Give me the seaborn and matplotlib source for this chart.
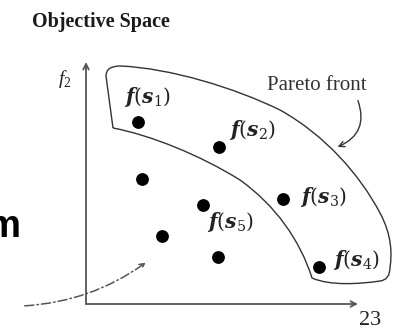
import matplotlib
matplotlib.use('Agg')
import matplotlib.pyplot as plt
import seaborn as sns
from matplotlib.patches import FancyArrowPatch, PathPatch
from matplotlib.path import Path

# Objective values of the candidate solutions (f1, f2), origin at the axis corner
f1 = [52, 133, 197, 233, 117, 56, 76, 132]
f2 = [182, 157, 105, 37, 99, 125, 68, 47]
names = ['1', '2', '3', '4', '5', None, None, None]
# label offsets from each dot (pixels, x right / y down)
label_dx = [9, 33, 40, 37, 27]
label_dy = [-25, -17, -2, -7, 17]

sns.set_theme(style='white')
plt.rcParams['mathtext.fontset'] = 'custom'
plt.rcParams['mathtext.it'] = 'DejaVu Serif:italic:bold'
plt.rcParams['mathtext.rm'] = 'DejaVu Serif'
plt.rcParams['mathtext.sf'] = 'Liberation Serif:italic'
plt.rcParams['mathtext.tt'] = 'Liberation Serif'

fig = plt.figure(figsize=(4.05, 3.29), dpi=100)
ax = fig.add_axes([0, 0, 1, 1])
ax.set_xlim(-86, 319)
ax.set_ylim(-25, 304)
ax.axis('off')


def P(x, y):
    # picture pixel -> data coords
    return (x - 86, 304 - y)


# Pareto front band
verts = [P(113, 128), P(106, 76),
         P(106, 66), P(120, 66),
         P(170, 68), P(235, 88), P(280, 110),
         P(325, 135), P(360, 175), P(380, 213),
         P(392, 235), P(392, 255), P(390, 267),
         P(390, 280), P(380, 281),
         P(360, 284), P(330, 286), P(312, 278),
         P(300, 240), P(275, 205), P(240, 180),
         P(200, 155), P(150, 135), P(113, 128)]
codes = [Path.MOVETO, Path.LINETO,
         Path.CURVE3, Path.CURVE3,
         Path.CURVE4, Path.CURVE4, Path.CURVE4,
         Path.CURVE4, Path.CURVE4, Path.CURVE4,
         Path.CURVE4, Path.CURVE4, Path.CURVE4,
         Path.CURVE3, Path.CURVE3,
         Path.CURVE4, Path.CURVE4, Path.CURVE4,
         Path.CURVE4, Path.CURVE4, Path.CURVE4,
         Path.CURVE4, Path.CURVE4, Path.CURVE4]
ax.add_patch(PathPatch(Path(verts, codes), fill=False, edgecolor='#333333', lw=1.0))

# axes arrows
axis_kw = dict(arrowstyle='->', color='#555555', lw=1.3, mutation_scale=10,
               shrinkA=0, shrinkB=0)
ax.add_patch(FancyArrowPatch((0, 0), (272, 0), **axis_kw))
ax.add_patch(FancyArrowPatch((0, 0), (0, 242), **axis_kw))

sns.scatterplot(x=f1, y=f2, ax=ax, color='black', s=85, linewidth=0, legend=False)

for i, n in enumerate(names):
    if n is None:
        continue
    ax.text(f1[i] + label_dx[i], f2[i] - label_dy[i], r'$f(s_{%s})$' % n,
            fontsize=14.5, ha='center', va='center', color='#222222')

serif = 'Liberation Serif'
ax.text(*P(32, 27), 'Objective Space', family=serif, weight='bold', fontsize=14.5,
        ha='left', va='baseline', color='#1a1a1a')
ax.text(*P(65, 79), r'$\mathsf{f}_{\mathtt{2}}$', fontsize=14, ha='center', va='center',
        color='#222222')
ax.text(*P(317, 90), 'Pareto front', family=serif, fontsize=15, ha='center',
        va='baseline', color='#333333')
ax.text(*P(370, 325), '23', family=serif, fontsize=16, ha='center', va='baseline',
        color='#222222')
ax.text(*P(20, 237), 'm', family='Liberation Sans', weight='bold', fontsize=27.5,
        ha='right', va='baseline', color='black')

# curly pointer to the front
ax.add_patch(FancyArrowPatch(P(357, 98), P(335, 148), connectionstyle='arc3,rad=-0.5',
                             arrowstyle='->', color='#333333', lw=1.0, mutation_scale=10))
# dash-dot pointer into dominated region
ax.add_patch(FancyArrowPatch(P(22, 306), P(148, 261), connectionstyle='arc3,rad=0.15',
                             arrowstyle='->', color='#555555', lw=1.1, mutation_scale=9,
                             linestyle=(0, (6, 2, 1, 2))))

fig.savefig('out.png', dpi=100, facecolor='white')
